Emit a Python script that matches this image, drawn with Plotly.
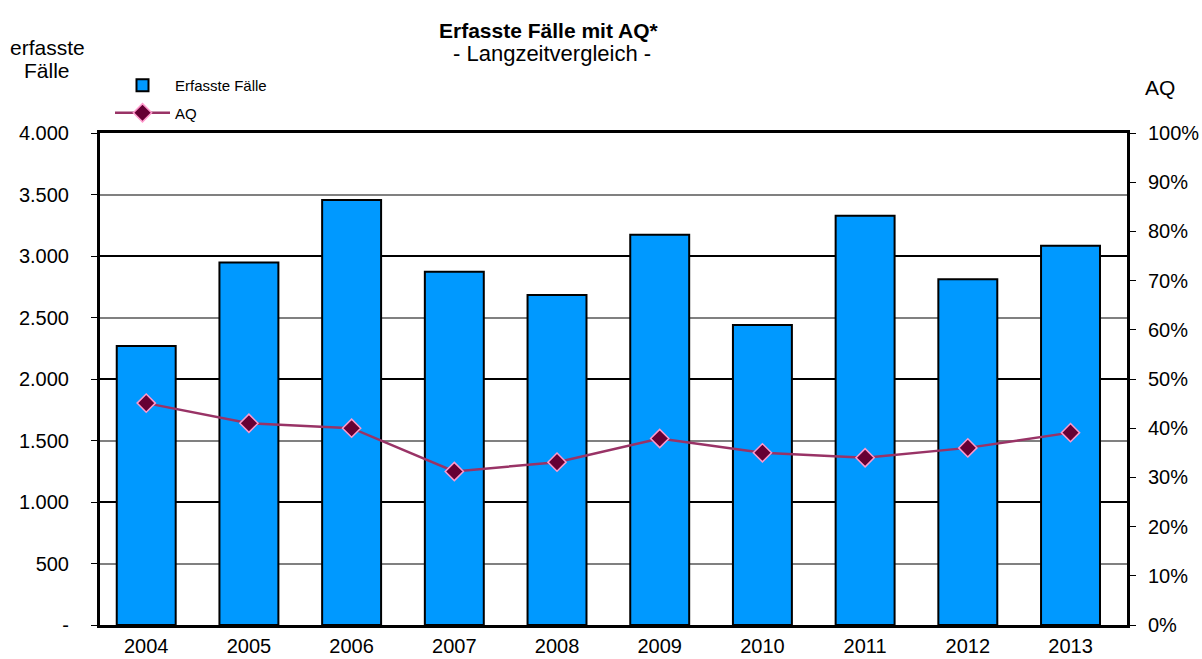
import plotly.graph_objects as go

years = ["2004", "2005", "2006", "2007", "2008", "2009", "2010", "2011", "2012", "2013"]
faelle = [2268, 2948, 3455, 2872, 2683, 3173, 2439, 3328, 2810, 3084]
aq = [0.451, 0.410, 0.400, 0.312, 0.331, 0.379, 0.350, 0.340, 0.360, 0.391]

left_tickvals = [0, 500, 1000, 1500, 2000, 2500, 3000, 3500, 4000]
left_ticktext = ["-", "500", "1.000", "1.500", "2.000", "2.500", "3.000", "3.500", "4.000"]
right_tickvals = [0, 0.1, 0.2, 0.3, 0.4, 0.5, 0.6, 0.7, 0.8, 0.9, 1.0]
right_ticktext = ["0%", "10%", "20%", "30%", "40%", "50%", "60%", "70%", "80%", "90%", "100%"]

FONT = "Liberation Sans, Arial, sans-serif"
W, H = 1202, 659
L, R, T, B = 100, 75, 133, 34
PW, PH = W - L - R, H - T - B


def px(x):
    return (x - L) / PW


def py(y):
    return (H - B - y) / PH


fig = go.Figure()
fig.add_trace(go.Bar(
    x=years, y=faelle, name="Erfasste Fälle", legendgroup="a",
    marker=dict(color="#0099FF", line=dict(color="#000000", width=2)),
    yaxis="y",
))
fig.add_trace(go.Scatter(
    x=years, y=aq, name="AQ", mode="lines+markers", legendgroup="b",
    line=dict(color="#993366", width=2.5),
    marker=dict(symbol="diamond", size=14, color="#660033",
                line=dict(color="#FF99CC", width=1.5)),
    yaxis="y2",
))
fig.add_trace(go.Scatter(x=years, y=[None] * len(years), yaxis="y3",
                         showlegend=False, hoverinfo="skip"))

ann_font = dict(family=FONT, size=21, color="#000000")
annotations = [
    dict(text="<b>Erfasste Fälle mit AQ*</b>", x=px(548), y=py(30), font=dict(family=FONT, size=21)),
    dict(text="- Langzeitvergleich -", x=px(552), y=py(53), font=dict(family=FONT, size=22)),
    dict(text="erfasste", x=px(47), y=py(48), font=ann_font),
    dict(text="Fälle", x=px(47), y=py(70), font=ann_font),
    dict(text="AQ", x=px(1160), y=py(87), font=ann_font),
]
for a in annotations:
    a.update(xref="paper", yref="paper", xanchor="center", yanchor="middle", showarrow=False)

fig.update_layout(
    width=W, height=H,
    margin=dict(l=L, r=R, t=T, b=B, autoexpand=False),
    paper_bgcolor="white", plot_bgcolor="white",
    font=dict(family=FONT, size=20, color="#000000"),
    bargap=0.426,
    showlegend=True,
    legend=dict(xref="container", yref="container", x=110 / W, y=1 - 69 / H,
                xanchor="left", yanchor="top",
                font=dict(size=15), bgcolor="rgba(0,0,0,0)",
                tracegroupgap=5, itemwidth=55),
    xaxis=dict(range=[-0.45, 9.55], showline=True, linecolor="#000000", linewidth=3,
               mirror=True, ticks="", showgrid=False, automargin=False,
               ticklabelstandoff=1),
    yaxis=dict(range=[0, 4000], tickvals=left_tickvals, ticktext=left_ticktext,
               showgrid=True, gridcolor="#808080", gridwidth=1.5,
               showline=True, linecolor="#000000", linewidth=3,
               ticks="outside", ticklen=6, tickcolor="#000000", ticklabelstandoff=18,
               zeroline=False, automargin=False),
    yaxis2=dict(range=[0, 1], overlaying="y", side="right",
                tickvals=right_tickvals, ticktext=right_ticktext,
                showgrid=False, showline=True, linecolor="#000000", linewidth=3,
                ticks="outside", ticklen=6, tickcolor="#000000", ticklabelstandoff=8,
                zeroline=False, automargin=False),
    yaxis3=dict(range=[0, 4000], overlaying="y", dtick=1000, showticklabels=False,
                showgrid=True, gridcolor="#000000", gridwidth=1.5, showline=False,
                ticks="", zeroline=False, automargin=False),
    annotations=annotations,
)

fig.write_html("out.html", config={"displayModeBar": False},
               post_script="document.body.style.margin='0';document.body.style.overflow='hidden';")
